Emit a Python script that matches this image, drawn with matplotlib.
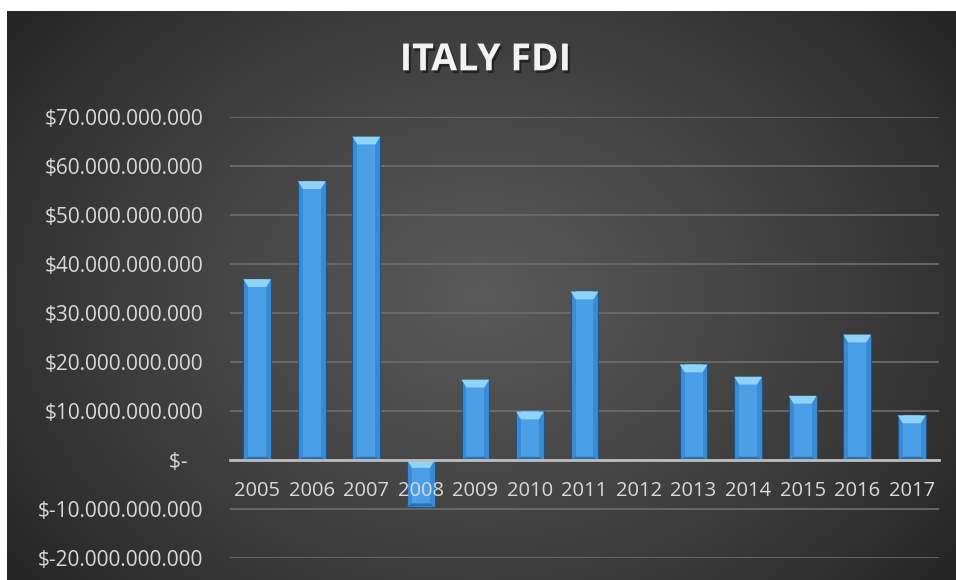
import numpy as np
import matplotlib.pyplot as plt
from matplotlib import patheffects
from matplotlib.patches import Polygon, Rectangle
from matplotlib.ticker import FuncFormatter

years = ['2005', '2006', '2007', '2008', '2009', '2010', '2011',
         '2012', '2013', '2014', '2015', '2016', '2017']
fdi = [36.9e9, 56.9e9, 66.0e9, -9.5e9, 16.4e9, 9.9e9, 34.4e9,
       0.0, 19.5e9, 17.0e9, 13.1e9, 25.6e9, 9.1e9]
y_ticks = [-20e9, -10e9, 0, 10e9, 20e9, 30e9, 40e9, 50e9, 60e9, 70e9]

plt.rcParams['font.family'] = ['Open Sans', 'DejaVu Sans']

fig = plt.figure(figsize=(9.56, 5.80), dpi=100, facecolor='white')

# dark panel with a soft radial glow
bg = fig.add_axes([7 / 956, 0, 949 / 956, 569 / 580])
bg.axis('off')
yy, xx = np.mgrid[0:1:300j, 0:1:500j]
r = np.sqrt(((xx - 0.5) / 0.62) ** 2 + ((yy - 0.5) / 0.8) ** 2)
shade = np.clip(1 - r, 0, 1)
lo, hi = 0x25 / 255, 0x5a / 255
g = lo + (hi - lo) * shade ** 0.85
bg.imshow(np.dstack([g, g, g]), aspect='auto', extent=[0, 1, 0, 1], origin='lower')
bg.set_xlim(0, 1)
bg.set_ylim(0, 1)

ax = fig.add_axes([230 / 956, 22 / 580, 709 / 956, 441 / 580])
ax.set_facecolor('none')

x = np.arange(len(years))
width = 0.51
bars = ax.bar(x, fdi, width=width, color='#3a8bd4', edgecolor='#1d5591',
              linewidth=0.8, zorder=3)

# bevel: lighter centre strip and a bright chevron on the upper end
side = 0.09
cap = 1.6e9
for xi, v in zip(x, fdi):
    if v == 0:
        continue
    x0, x1 = xi - width / 2, xi + width / 2
    top, bot = max(v, 0), min(v, 0)
    ax.add_patch(Rectangle((x0 + side, bot), width - 2 * side, top - bot,
                           facecolor='#4a9fe6', edgecolor='none', zorder=3.1))
    ax.add_patch(Polygon([(x0, top), (x1, top), (x1 - side, top - cap),
                          (x0 + side, top - cap)],
                         facecolor='#8fd3f8', edgecolor='none', zorder=3.2))
    ax.add_patch(Polygon([(x0, bot), (x1, bot), (x1 - side, bot + cap * 0.4),
                          (x0 + side, bot + cap * 0.4)],
                         facecolor='#2c6fae', edgecolor='none', zorder=3.2))

ax.set_xlim(-0.5, len(years) - 0.5)
ax.set_ylim(-20e9, 70e9)
ax.set_yticks(y_ticks)


def money(v, pos):
    if v == 0:
        return '$-   '
    return f"${v:,.0f}".replace(',', '.')


ax.yaxis.set_major_formatter(FuncFormatter(money))
ax.set_xticks([])

# year labels sit on the zero line, drawn over the bars
for xi, yr in zip(x, years):
    ax.annotate(yr, (xi, 0), xytext=(0, -22.5), textcoords='offset points',
                ha='center', va='center', fontsize=14.5, color='#d9d9d9',
                zorder=6, annotation_clip=False)

ax.yaxis.grid(True, color='#6b6b6b', linewidth=1.3, zorder=0)
ax.set_axisbelow(True)
for s in ['top', 'right', 'left']:
    ax.spines[s].set_visible(False)
ax.spines['bottom'].set_position(('data', 0))
ax.spines['bottom'].set_color('#bdbdbd')
ax.spines['bottom'].set_linewidth(2)
ax.spines['bottom'].set_zorder(4)

ax.tick_params(axis='both', length=0, colors='#d9d9d9', labelsize=15)
ax.tick_params(axis='y', pad=19)

fig.text(0.508, 0.896, 'ITALY FDI', ha='center', va='center', fontsize=27,
         fontweight='bold', color='#f2f2f2',
         path_effects=[patheffects.SimplePatchShadow(offset=(1.5, -2),
                                                     shadow_rgbFace='black',
                                                     alpha=0.45),
                       patheffects.Normal()])

fig.savefig('out.png', dpi=100, facecolor='white')
